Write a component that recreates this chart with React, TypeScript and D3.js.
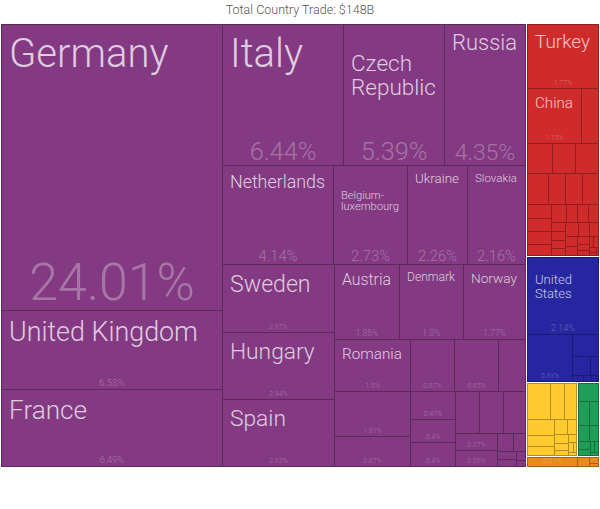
import { useMemo } from "react";
import * as d3 from "d3";

const title = "Total Country Trade: $148B";

const continents = ["Europe", "Asia", "North America", "Africa", "South America", "Oceania"];
const continentColors = ["#833a82", "#d02b2b", "#2626a0", "#ffc930", "#1f9e57", "#e88a1c"];

// shares in % of total trade, in the order the tiles appear
const europeNames = [
  "Germany", "United Kingdom", "France", "Italy", "Czech Republic", "Russia",
  "Netherlands", "Belgium-luxembourg", "Ukraine", "Slovakia", "Sweden", "Hungary",
  "Spain", "Austria", "Denmark", "Norway", "Romania", "Lithuania", "Finland",
  "Switzerland", "Belarus", "Latvia", "Estonia", "Greece", "Bulgaria", "Ireland",
  "Portugal", "Slovenia", "Croatia", "Serbia", "Moldova", "Bosnia and Herzegovina",
  "Macedonia", "Iceland", "Malta", "Albania",
];
const europeShares = [
  24.01, 6.58, 6.49, 6.44, 5.39, 4.35, 4.14, 2.73, 2.26, 2.16, 2.87, 2.84, 2.82,
  1.86, 1.8, 1.77, 1.5, 1.31, 0.87, 0.87, 0.85, 0.54, 0.47, 0.4, 0.4, 0.39, 0.38,
  0.36, 0.27, 0.26, 0.11, 0.08, 0.06, 0.05, 0.03, 0.02,
];

const asiaNames = [
  "Turkey", "China", "Japan", "Kazakhstan", "South Korea", "India", "Israel",
  "United Arab Emirates", "Saudi Arabia", "Vietnam", "Hong Kong", "Azerbaijan",
  "Iran", "Singapore", "Georgia", "Taiwan", "Malaysia", "Thailand", "Uzbekistan",
  "Indonesia", "Lebanon", "Iraq", "Armenia", "Jordan", "Kuwait", "Pakistan",
  "Turkmenistan", "Qatar", "Kyrgyzstan", "Philippines", "Mongolia", "Bangladesh",
  "Sri Lanka", "Oman", "Tajikistan",
];
const asiaShares = [
  1.77, 1.15, 0.37, 0.29, 0.28, 0.27, 0.25, 0.21, 0.2, 0.19, 0.13, 0.125, 0.12,
  0.11, 0.1, 0.08, 0.075, 0.07, 0.05, 0.05, 0.045, 0.04, 0.07, 0.06, 0.05, 0.045,
  0.04, 0.035, 0.03, 0.025, 0.02, 0.02, 0.015, 0.01, 0.005,
];

const northAmericaNames = [
  "United States", "Canada", "Mexico", "Panama", "Guatemala", "Cuba", "Costa Rica",
  "Dominican Republic", "Honduras",
];
const northAmericaShares = [2.14, 0.83, 0.22, 0.13, 0.06, 0.03, 0.02, 0.015, 0.005];

const africaNames = [
  "Egypt", "Nigeria", "Algeria", "Morocco", "South Africa", "Tunisia", "Libya",
  "Ghana", "Kenya", "Angola", "Senegal", "Ethiopia", "Ivory Coast", "Cameroon", "Tanzania",
];
const africaShares = [0.32, 0.2, 0.18, 0.18, 0.11, 0.1, 0.08, 0.06, 0.05, 0.04, 0.03, 0.025, 0.02, 0.015, 0.01];

const southAmericaNames = [
  "Brazil", "Argentina", "Chile", "Colombia", "Peru", "Venezuela", "Ecuador",
  "Uruguay", "Paraguay", "Bolivia",
];
const southAmericaShares = [0.15, 0.11, 0.09, 0.07, 0.06, 0.04, 0.03, 0.02, 0.02, 0.01];

const oceaniaNames = ["Australia", "New Zealand", "Papua New Guinea", "Fiji"];
const oceaniaShares = [0.21, 0.05, 0.025, 0.015];

const groupNames = [europeNames, asiaNames, northAmericaNames, africaNames, southAmericaNames, oceaniaNames];
const groupShares = [europeShares, asiaShares, northAmericaShares, africaShares, southAmericaShares, oceaniaShares];

const WIDTH = 600;
const HEIGHT = 509;
// layout space is a bit narrower than the pixels, then stretched by the x scale
const LAYOUT_W = 585;
const LAYOUT_H = 442;
const PAD = 8;
const FONT = "Roboto, 'Liberation Sans', sans-serif";

const fmt = d3.format(".2~f");

let ctx: CanvasRenderingContext2D | null = null;
function emWidth(s: string) {
  if (!ctx) ctx = document.createElement("canvas").getContext("2d");
  if (!ctx) return s.length * 0.5;
  ctx.font = `300 100px Roboto`;
  return ctx.measureText(s).width / 100;
}

function fitName(name: string, w: number, h: number) {
  const maxW = w - 2 * PAD;
  const options: string[][] = [[name]];
  const parts = name.split(/(?<=[ -])/);
  for (let i = 1; i < parts.length; i++) {
    options.push([parts.slice(0, i).join("").trim(), parts.slice(i).join("").trim()]);
  }
  let best = { lines: [name], size: 0 };
  for (const lines of options) {
    const wEm = Math.max(...lines.map(emWidth));
    const size = Math.min(40, maxW / wEm, (h * 0.34) / lines.length);
    if (size > best.size) best = { lines, size };
  }
  return best;
}

type Leaf = { name: string; share?: number; color?: string; children?: Leaf[] };

export default function App() {
  const leaves = useMemo(() => {
    const data: Leaf = {
      name: "root",
      children: continents.map((c, i) => ({
        name: c,
        color: continentColors[i],
        children: groupNames[i].map((n, j) => ({ name: n, share: groupShares[i][j] })),
      })),
    };
    const root = d3.hierarchy<Leaf>(data).sum((d) => d.share ?? 0);

    const outerTile = d3.treemapSquarify;
    const europeTile = d3.treemapSquarify.ratio(1.5);
    d3
      .treemap<Leaf>()
      .size([LAYOUT_W, LAYOUT_H])
      .paddingInner((node) => (node.depth === 0 ? 2 : 0))
      .tile((node, x0, y0, x1, y1) =>
        (node.data.name === "Europe" ? europeTile : outerTile)(node, x0, y0, x1, y1)
      )(root);

    return root.leaves() as d3.HierarchyRectangularNode<Leaf>[];
  }, []);

  const xs = d3.scaleLinear().domain([0, LAYOUT_W]).range([1, 598]);
  const ys = d3.scaleLinear().domain([0, LAYOUT_H]).range([24, 466]);

  return (
    <svg
      width={WIDTH}
      height={HEIGHT}
      style={{ position: "absolute", left: 0, top: 0, background: "#fff" }}
      fontFamily={FONT}
    >
      <text x={WIDTH / 2} y={14} textAnchor="middle" fontSize={12.5} fontWeight={300} fill="#555">
        {title}
      </text>
      {leaves.map((d, i) => {
        const color = d.parent!.data.color!;
        const x0 = Math.round(xs(d.x0));
        const x1 = Math.round(xs(d.x1));
        const y0 = Math.round(ys(d.y0));
        const y1 = Math.round(ys(d.y1));
        const w = x1 - x0;
        const h = y1 - y0;
        const shareText = fmt(d.data.share!) + "%";
        const showShare = w >= 35 && h >= 9;
        const shareSize = Math.max(7, Math.min((0.75 * w) / emWidth(shareText), 0.25 * h - 10));
        const nm = fitName(d.data.name, w, h);
        const showName = nm.size >= 9.5 && h >= 48;
        const lineH = nm.size * 1.05;
        let top = y0 + 6;
        if (nm.lines.length > 1) {
          const avail = h - shareSize - 18;
          const block = nm.lines.length * lineH;
          top += Math.max(0, avail - block) * 0.4;
        }
        return (
          <g key={i}>
            <rect
              x={x0 + 0.5}
              y={y0 + 0.5}
              width={Math.max(0, w)}
              height={Math.max(0, h)}
              fill={color}
              stroke={d3.color(color)!.darker(1).formatHex()}
              strokeWidth={1}
            />
            {showName && (
              <text x={x0 + PAD} fontSize={nm.size} fontWeight={300} fill="#fff" fillOpacity={0.75}>
                {nm.lines.map((l, k) => (
                  <tspan key={k} x={x0 + PAD} y={top + nm.size * 0.93 + k * lineH}>
                    {l}
                  </tspan>
                ))}
              </text>
            )}
            {showShare && (
              <text
                x={(x0 + x1) / 2 + 0.5}
                y={y1 - Math.max(3, 0.2 * shareSize)}
                textAnchor="middle"
                fontSize={shareSize}
                fontWeight={300}
                fill="#fff"
                fillOpacity={0.3}
              >
                {shareText}
              </text>
            )}
          </g>
        );
      })}
    </svg>
  );
}
